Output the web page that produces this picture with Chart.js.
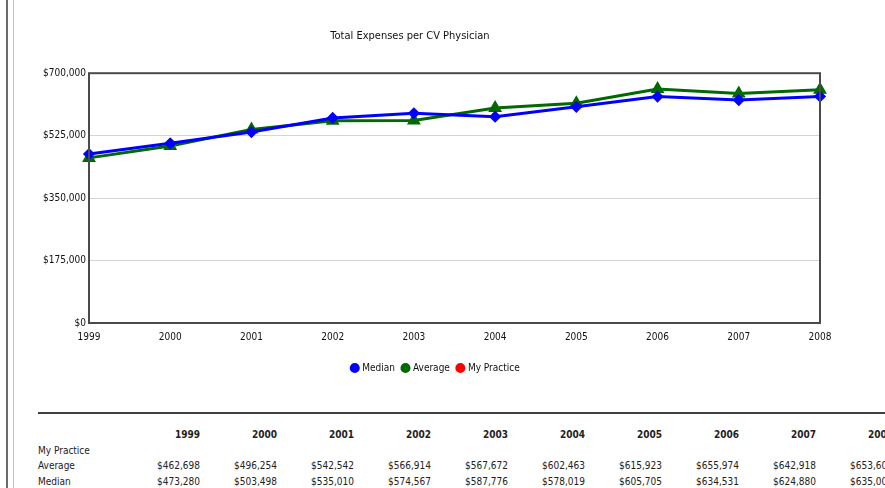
<!DOCTYPE html>
<html lang="en">
<head>
    <meta charset="UTF-8">
    <script src="https://cdn.jsdelivr.net/npm/chart.js"></script>
    <title>Total Expenses per CV Physician</title>
    <style>
        body { margin: 0; background: #fff; width: 885px; height: 488px; overflow: hidden; position: relative;
               font-family: "Liberation Sans Narrow", "DejaVu Sans Condensed", sans-serif; }
        .bar1 { position: absolute; left: 6px; top: 0; width: 2px; height: 488px; background: #6a6a6a; }
        .bar2 { position: absolute; left: 13px; top: 0; width: 1px; height: 488px; background: #a8c4e0; }
        .grafico { position: absolute; left: 0; top: 0; width: 885px; height: 400px; }
        .linha { position: absolute; left: 38px; top: 412px; width: 847px; height: 2px; background: #404040; }
        table { position: absolute; left: 38px; top: 427px; width: 855px; border-collapse: collapse; font-size: 10px; color: #222; table-layout: fixed; }
        td, th { padding: 0; height: 15.5px; line-height: 15.5px; white-space: nowrap; }
        th { font-weight: bold; text-align: right; width: 77px; }
        td.val { text-align: right; }
        td.nome { width: 85px; text-align: left; }
    </style>
</head>
<body>
    <div class="bar1"></div>
    <div class="bar2"></div>
    <div class="grafico"><canvas id="grafico_1"></canvas></div>
    <div class="linha"></div>
    <table id="tabela"></table>

<script>
    var anos = ['1999', '2000', '2001', '2002', '2003', '2004', '2005', '2006', '2007', '2008'];
    var mediana = [473280, 503498, 535010, 574567, 587776, 578019, 605705, 634531, 624880, 635000];
    var media = [462698, 496254, 542542, 566914, 567672, 602463, 615923, 655974, 642918, 653600];
    var minhaPratica = [];
    var ticksY = [0, 175000, 350000, 525000, 700000];

    function dinheiro(v) {
        return '$' + v.toLocaleString('en-US');
    }

    // caixa em volta da area do grafico
    var caixa = {
        id: 'caixa',
        afterLayout(chart) {
            // legenda um pouco mais para a direita
            chart.legend.left += 26;
            chart.legend.right += 26;
        },
        afterDraw(chart) {
            const a = chart.chartArea;
            const c = chart.ctx;
            c.save();
            c.strokeStyle = '#4a4a4a';
            c.lineWidth = 2;
            c.strokeRect(a.left, a.top, a.right - a.left, a.bottom - a.top);
            c.restore();
        }
    };

    Chart.defaults.font.family = '"Liberation Sans Narrow", "DejaVu Sans Condensed", sans-serif';
    Chart.defaults.color = '#111';

    const ctx = document.getElementById('grafico_1');
    new Chart(ctx, {
        type: 'line',
        data: {
            labels: anos,
            datasets: [{
                label: 'Median',
                data: mediana,
                borderColor: 'rgb(0, 0, 255)',
                backgroundColor: 'rgb(0, 0, 255)',
                borderWidth: 3,
                pointStyle: 'rectRot',
                pointRadius: 4,
                tension: 0
            },
            {
                label: 'Average',
                data: media,
                borderColor: 'rgb(0, 105, 0)',
                backgroundColor: 'rgb(0, 105, 0)',
                borderWidth: 3,
                pointStyle: 'triangle',
                pointRadius: 5,
                tension: 0
            },
            {
                label: 'My Practice',
                data: minhaPratica,
                borderColor: 'rgb(255, 0, 0)',
                backgroundColor: 'rgb(255, 0, 0)',
                borderWidth: 3
            }]
        },
        options: {
            responsive: true,
            maintainAspectRatio: false,
            animation: false,
            layout: { padding: { left: 0, right: 65, top: 0, bottom: 17 } },
            plugins: {
                title: {
                    display: true,
                    text: 'Total Expenses per CV Physician',
                    font: { size: 11, weight: 'normal' },
                    color: '#111',
                    padding: { top: 30, bottom: 30 }
                },
                legend: {
                    position: 'bottom',
                    labels: {
                        usePointStyle: true,
                        pointStyle: 'circle',
                        boxWidth: 5,
                        boxHeight: 5,
                        padding: 8,
                        font: { size: 10 },
                        color: '#111'
                    }
                },
                tooltip: { enabled: false }
            },
            scales: {
                x: {
                    grid: { display: false },
                    border: { display: false },
                    afterFit: function (s) { s.height += 12; },
                    ticks: { font: { size: 10 }, maxRotation: 0, padding: 0, color: '#111' }
                },
                y: {
                    min: 0,
                    max: 700000,
                    afterBuildTicks: function (s) { s.ticks = ticksY.map(v => ({ value: v })); },
                    afterFit: function (s) { s.width = 89; },
                    grid: { color: '#d4d4d4', drawTicks: false },
                    border: { display: false },
                    ticks: {
                        font: { size: 10 },
                        padding: 3,
                        color: '#111',
                        callback: function (v) { return dinheiro(v); }
                    }
                }
            }
        },
        plugins: [caixa]
    });

    function criarTabela() {
        var html = '<tr><td class="nome"></td>';
        for (var i = 0; i < anos.length; i++) html += '<th>' + anos[i] + '</th>';
        html += '</tr>';
        var linhas = [['My Practice', minhaPratica], ['Average', media], ['Median', mediana]];
        linhas.forEach(function (l) {
            html += '<tr><td class="nome">' + l[0] + '</td>';
            for (var i = 0; i < anos.length; i++) {
                html += '<td class="val">' + (l[1][i] !== undefined ? dinheiro(l[1][i]) : '') + '</td>';
            }
            html += '</tr>';
        });
        tabela.innerHTML = html;
    }
    criarTabela();
</script>
</body>
</html>
